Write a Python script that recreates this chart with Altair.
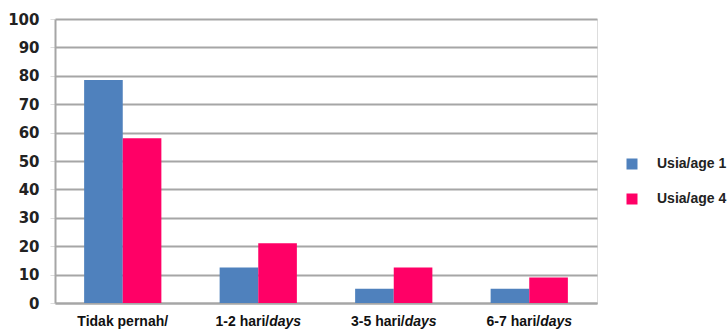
import altair as alt
import pandas as pd

categories = ["Tidak pernah/", "1-2 hari/days", "3-5 hari/days", "6-7 hari/days"]
label_regular = ["Tidak pernah/", "1-2 hari/", "3-5 hari/", "6-7 hari/"]
label_italic = ["", "days", "days", "days"]
series = ["Usia/age 1", "Usia/age 4"]
age1 = [78.5, 12.5, 5, 5]
age4 = [58, 21, 12.5, 9]
colors = ["#4F81BD", "#FF0066"]

rows = []
for i, c in enumerate(categories):
    rows.append({"cat": c, "series": series[0], "value": age1[i]})
    rows.append({"cat": c, "series": series[1], "value": age4[i]})
df = pd.DataFrame(rows)
lab = pd.DataFrame({"cat": categories, "reg": label_regular, "ital": label_italic})

xscale = alt.Scale(domain=categories, paddingInner=0.43, paddingOuter=0.215)
FONT_X = "Liberation Sans"

bars = alt.Chart(df).mark_bar().encode(
    x=alt.X("cat:N", scale=xscale, sort=categories,
            axis=alt.Axis(title=None, labels=False, ticks=False, domain=True,
                          domainColor="#a6a6a6", domainWidth=2)),
    xOffset=alt.XOffset("series:N", sort=series),
    y=alt.Y("value:Q", scale=alt.Scale(domain=[0, 100], nice=False),
            axis=alt.Axis(title=None, values=list(range(0, 101, 10)),
                          grid=True, gridColor="#a6a6a6", gridWidth=2,
                          domainColor="#a6a6a6", domainWidth=2,
                          tickColor="#dddddd", tickSize=5, tickWidth=1,
                          labelFont="DejaVu Sans", labelFontWeight="bold",
                          labelFontSize=15, labelColor="#222222", labelPadding=11)),
    color=alt.Color("series:N", sort=series,
                    scale=alt.Scale(domain=series, range=colors),
                    legend=alt.Legend(title=None, orient="none", legendX=570, legendY=138,
                                      symbolType="square", symbolSize=121,
                                      symbolStrokeWidth=0, labelFont="Liberation Sans",
                                      labelFontWeight="bold", labelFontSize=14,
                                      labelColor="#222222", labelOffset=18,
                                      rowPadding=21, padding=0)),
)

LABEL_Y = 303

first = alt.Chart(lab).transform_filter("datum.ital == ''").mark_text(
    align="center", baseline="middle", font=FONT_X, fontWeight="bold",
    fontSize=14, color="#111111").encode(
    x=alt.X("cat:N", scale=xscale, sort=categories, bandPosition=0.5),
    y=alt.value(LABEL_Y), text="reg:N")

reg = alt.Chart(lab).transform_filter("datum.ital != ''").mark_text(
    align="right", baseline="middle", font=FONT_X, fontWeight="bold",
    fontSize=14, color="#111111", dx=11).encode(
    x=alt.X("cat:N", scale=xscale, sort=categories, bandPosition=0.5),
    y=alt.value(LABEL_Y), text="reg:N")

ital = alt.Chart(lab).transform_filter("datum.ital != ''").mark_text(
    align="left", baseline="middle", font=FONT_X, fontWeight="bold",
    fontStyle="italic", fontSize=14, color="#111111", dx=11).encode(
    x=alt.X("cat:N", scale=xscale, sort=categories, bandPosition=0.5),
    y=alt.value(LABEL_Y), text="ital:N")

chart = alt.layer(bars, first, reg, ital).properties(
    width=542, height=284,
    autosize=alt.AutoSizeParams(type="none"),
    padding={"left": 55, "top": 19, "right": 131, "bottom": 30},
).configure_view(stroke=None).configure(background="white")

chart.save("out.html", embed_options={"renderer": "svg", "actions": False})
